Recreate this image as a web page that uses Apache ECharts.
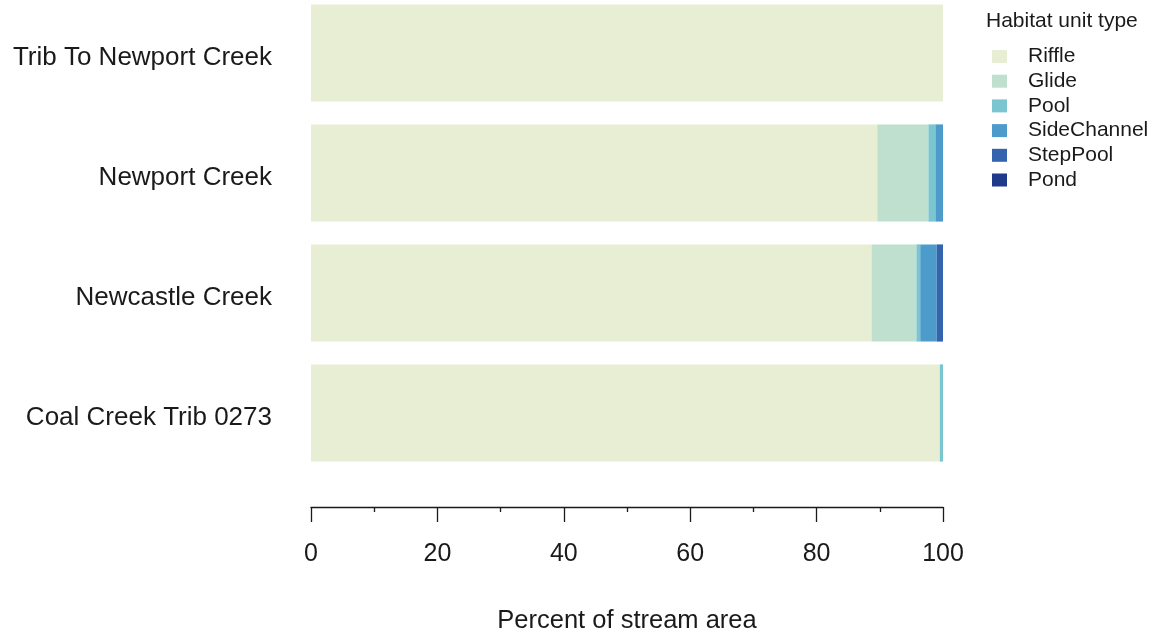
<!DOCTYPE html>
<html>
<head>
<meta charset="utf-8">
<script src="https://cdn.jsdelivr.net/npm/echarts@6/dist/echarts.min.js"></script>
<style>html,body{margin:0;padding:0;background:#fff}#c{width:1154px;height:637px}</style>
</head>
<body>
<div id="c"></div>
<script>
var categories = ["Trib To Newport Creek", "Newport Creek", "Newcastle Creek", "Coal Creek Trib 0273"];
var habitatTypes = ["Riffle", "Glide", "Pool", "SideChannel", "StepPool", "Pond"];
var riffle      = [100, 89.6, 88.7, 99.5];
var glide       = [0, 8.1, 7.1, 0];
var pool        = [0, 1.1, 0.6, 0.5];
var sideChannel = [0, 1.2, 2.6, 0];
var stepPool    = [0, 0, 1.0, 0];
var pond        = [0, 0, 0, 0];
var xTicks = [0, 20, 40, 60, 80, 100];

var colors = ["#E8EED3", "#BFE0CE", "#7BC5D1", "#4C9BCA", "#3464AE", "#1F3A8A"];
var values = [riffle, glide, pool, sideChannel, stepPool, pond];
var font = "Liberation Sans, Arial, sans-serif";

var chart = echarts.init(document.getElementById('c'));
chart.setOption({
  animation: false,
  title: {
    text: "Habitat unit type", left: 986, top: 11, padding: 0,
    textStyle: {fontFamily: font, fontSize: 21, fontWeight: 'normal', color: '#1a1a1a'}
  },
  legend: {
    data: habitatTypes, orient: 'vertical', left: 992, top: 46, padding: 0,
    icon: 'rect', itemWidth: 15, itemHeight: 13, itemGap: 3.7,
    textStyle: {fontFamily: font, fontSize: 21, color: '#1a1a1a', lineHeight: 20, padding: [0, 0, 0, 16]}
  },
  grid: {left: 311, right: 211, top: -7, height: 480, outerBoundsMode: 'none'},
  xAxis: {
    type: 'value', min: 0, max: 100, interval: 20, offset: 34,
    name: "Percent of stream area", nameLocation: 'middle', nameGap: 101,
    nameTextStyle: {fontFamily: font, fontSize: 25.5, color: '#1a1a1a'},
    axisLine: {show: true, lineStyle: {color: '#1a1a1a', width: 1.3}},
    axisTick: {show: true, length: 15, lineStyle: {color: '#1a1a1a', width: 1.3}},
    minorTick: {show: true, splitNumber: 2, length: 5, lineStyle: {color: '#1a1a1a', width: 1.3}},
    axisLabel: {margin: 35, fontFamily: font, fontSize: 25, color: '#1a1a1a',
      formatter: function (v) { return xTicks.indexOf(v) >= 0 ? String(v) : ''; }},
    splitLine: {show: false}
  },
  yAxis: {
    type: 'category', data: categories, inverse: true,
    axisLine: {show: false}, axisTick: {show: false},
    axisLabel: {margin: 39, fontFamily: font, fontSize: 26, color: '#1a1a1a',
      verticalAlign: 'top', lineHeight: 10}
  },
  series: habitatTypes.map(function (name, i) {
    return {
      name: name, type: 'bar', stack: 'total', data: values[i],
      barCategoryGap: '19%',
      itemStyle: {color: colors[i]}
    };
  })
});
</script>
</body>
</html>
